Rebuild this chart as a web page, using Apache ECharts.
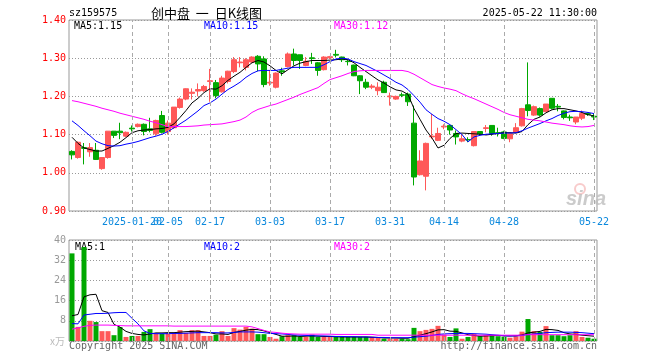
<!DOCTYPE html>
<html>
<head>
<meta charset="utf-8">
<script src="https://cdn.jsdelivr.net/npm/echarts@6/dist/echarts.min.js"></script>
<style>html,body{margin:0;padding:0;background:#fff;}#c{width:660px;height:360px;}</style>
</head>
<body>
<div id="c"></div>
<script>
const dates = ['01-07','01-08','01-09','01-10','01-13','01-14','01-15','01-16','01-17','01-20','01-21','01-22','01-23','01-24','01-27',
 '02-05','02-06','02-07','02-10','02-11','02-12','02-13','02-14','02-17','02-18','02-19','02-20','02-21','02-24','02-25','02-26','02-27','02-28',
 '03-03','03-04','03-05','03-06','03-07','03-10','03-11','03-12','03-13','03-14','03-17','03-18','03-19','03-20','03-21','03-24','03-25','03-26','03-27','03-28','03-31',
 '04-01','04-02','04-03','04-07','04-08','04-09','04-10','04-11','04-14','04-15','04-16','04-17','04-18','04-21','04-22','04-23','04-24','04-25','04-28','04-29','04-30',
 '05-06','05-07','05-08','05-09','05-12','05-13','05-14','05-15','05-16','05-19','05-20','05-21','05-22'];

const openP = [1.056,1.040,1.066,1.055,1.059,1.011,1.040,1.109,1.109,1.096,1.117,1.121,1.127,1.115,1.102,1.150,1.108,1.118,1.171,1.193,1.208,1.214,1.215,1.239,1.236,1.212,1.239,1.265,1.288,1.276,1.290,1.305,1.298,1.235,1.224,1.267,1.278,1.311,1.309,1.281,1.301,1.288,1.270,1.301,1.310,1.303,1.292,1.282,1.254,1.237,1.224,1.215,1.237,1.199,1.193,1.204,1.206,1.130,0.995,0.991,1.094,1.085,1.120,1.124,1.103,1.083,1.087,1.071,1.108,1.116,1.124,1.105,1.107,1.089,1.106,1.123,1.178,1.151,1.168,1.160,1.195,1.174,1.162,1.146,1.133,1.143,1.155,1.148];
const closeP = [1.047,1.080,1.064,1.066,1.035,1.040,1.109,1.098,1.105,1.106,1.115,1.127,1.108,1.111,1.137,1.106,1.130,1.172,1.193,1.220,1.211,1.218,1.226,1.241,1.202,1.248,1.266,1.296,1.290,1.296,1.303,1.285,1.231,1.237,1.261,1.264,1.311,1.294,1.294,1.292,1.299,1.268,1.303,1.304,1.308,1.296,1.291,1.254,1.241,1.224,1.227,1.224,1.210,1.201,1.200,1.203,1.186,0.989,1.031,1.077,1.096,1.103,1.122,1.112,1.094,1.089,1.086,1.108,1.102,1.118,1.103,1.103,1.090,1.102,1.118,1.168,1.163,1.173,1.151,1.180,1.169,1.172,1.145,1.144,1.146,1.155,1.153,1.146];
const lowP = [1.035,1.037,1.022,1.042,1.034,1.008,1.037,1.091,1.088,1.094,1.108,1.119,1.098,1.106,1.097,1.103,1.100,1.115,1.168,1.190,1.192,1.200,1.212,1.186,1.195,1.210,1.234,1.261,1.276,1.268,1.288,1.266,1.224,1.228,1.221,1.254,1.276,1.281,1.272,1.279,1.285,1.254,1.268,1.298,1.302,1.290,1.281,1.253,1.206,1.219,1.219,1.203,1.209,1.176,1.191,1.198,1.175,0.967,0.993,0.954,1.089,1.083,1.114,1.100,1.074,1.080,1.080,1.069,1.097,1.106,1.097,1.095,1.088,1.080,1.104,1.121,1.148,1.149,1.147,1.159,1.166,1.161,1.140,1.136,1.127,1.138,1.149,1.138];
const highP = [1.059,1.082,1.078,1.078,1.078,1.041,1.109,1.109,1.131,1.108,1.124,1.129,1.129,1.144,1.139,1.162,1.137,1.172,1.197,1.221,1.221,1.234,1.230,1.272,1.243,1.254,1.267,1.303,1.303,1.300,1.305,1.308,1.305,1.268,1.263,1.275,1.315,1.325,1.309,1.303,1.314,1.290,1.305,1.306,1.322,1.304,1.296,1.283,1.255,1.246,1.232,1.237,1.241,1.210,1.202,1.210,1.210,1.176,1.059,1.079,1.154,1.118,1.127,1.124,1.111,1.100,1.093,1.108,1.108,1.125,1.124,1.118,1.110,1.102,1.130,1.170,1.289,1.176,1.171,1.180,1.195,1.180,1.163,1.152,1.146,1.163,1.158,1.154];

const ma5 = [1.093,1.077,1.065,1.061,1.057,1.057,1.064,1.071,1.080,1.092,1.105,1.110,1.112,1.113,1.115,1.116,1.119,1.128,1.145,1.163,1.183,1.195,1.210,1.220,1.219,1.228,1.242,1.253,1.263,1.276,1.288,1.294,1.290,1.280,1.268,1.259,1.270,1.280,1.287,1.291,1.294,1.294,1.294,1.295,1.296,1.298,1.296,1.288,1.276,1.265,1.254,1.243,1.235,1.225,1.217,1.214,1.205,1.168,1.140,1.112,1.091,1.065,1.072,1.090,1.103,1.104,1.103,1.102,1.101,1.099,1.101,1.103,1.105,1.105,1.104,1.108,1.126,1.140,1.146,1.157,1.165,1.168,1.168,1.165,1.162,1.158,1.152,1.149];
const ma10 = [1.136,1.124,1.110,1.097,1.083,1.076,1.071,1.070,1.071,1.075,1.078,1.082,1.087,1.092,1.096,1.101,1.108,1.118,1.128,1.138,1.150,1.162,1.176,1.183,1.193,1.206,1.218,1.227,1.237,1.250,1.260,1.267,1.268,1.268,1.268,1.271,1.274,1.276,1.276,1.276,1.276,1.276,1.283,1.291,1.298,1.300,1.298,1.291,1.286,1.281,1.273,1.265,1.256,1.247,1.237,1.230,1.218,1.202,1.185,1.165,1.153,1.142,1.135,1.126,1.113,1.100,1.081,1.094,1.098,1.101,1.102,1.103,1.104,1.104,1.105,1.110,1.117,1.123,1.129,1.136,1.142,1.150,1.156,1.160,1.161,1.160,1.158,1.155];
const ma30 = [1.189,1.186,1.182,1.178,1.174,1.169,1.165,1.161,1.156,1.152,1.148,1.144,1.140,1.135,1.131,1.126,1.121,1.121,1.121,1.121,1.122,1.123,1.125,1.126,1.127,1.128,1.131,1.134,1.138,1.146,1.158,1.166,1.171,1.176,1.180,1.186,1.192,1.198,1.205,1.211,1.217,1.223,1.234,1.244,1.249,1.254,1.260,1.265,1.267,1.268,1.268,1.268,1.268,1.268,1.268,1.268,1.265,1.258,1.249,1.240,1.231,1.226,1.222,1.219,1.215,1.207,1.200,1.194,1.187,1.180,1.173,1.166,1.158,1.152,1.148,1.144,1.140,1.138,1.136,1.133,1.130,1.128,1.126,1.123,1.121,1.120,1.121,1.124];

const volume = [34.7,5.6,37.2,8.0,7.5,3.9,3.9,2.3,5.5,1.6,2.0,2.0,3.6,4.7,2.9,2.9,3.2,3.2,4.3,3.2,4.3,4.3,2.0,2.0,2.5,3.9,2.0,5.1,4.5,5.6,4.9,2.7,2.7,1.6,0.9,1.9,2.3,2.3,1.6,1.6,2.5,1.6,1.6,1.6,1.6,1.6,1.6,1.6,1.6,1.6,1.6,1.2,0.9,0.9,0.9,0.9,0.7,5.2,3.9,4.4,4.8,6.0,2.5,1.6,5.0,0.9,1.6,2.8,1.9,2.3,2.3,1.9,1.6,1.3,1.9,3.7,8.7,3.9,3.6,5.9,2.3,2.3,1.9,2.3,3.9,1.6,1.3,0.9];
const volMa5 = [10.0,10.5,17.5,18.3,18.5,12.0,11.3,6.6,5.5,3.8,3.0,2.6,2.4,2.8,3.2,3.2,3.3,3.3,3.5,3.7,3.8,3.9,3.6,3.3,2.8,2.8,2.6,3.4,3.8,4.3,4.6,4.5,4.0,3.3,2.6,1.9,1.9,2.0,1.8,1.9,2.0,1.9,1.8,1.8,1.7,1.6,1.6,1.6,1.6,1.6,1.5,1.4,1.2,1.2,1.2,1.1,1.1,1.7,2.3,2.9,3.6,4.4,4.5,3.9,3.8,3.2,2.5,2.2,1.9,2.0,2.1,2.2,2.0,2.0,2.1,2.4,3.2,3.5,3.8,4.6,4.5,4.2,3.3,2.8,2.6,2.3,2.1,1.9];
const volMa10 = [6.9,6.8,10.3,10.6,10.9,10.9,11.0,11.2,11.3,11.3,9.0,6.8,4.0,3.0,2.9,2.9,2.9,3.0,3.0,3.1,3.2,3.3,3.3,3.3,3.3,3.2,3.2,3.4,3.6,3.6,3.6,3.5,3.3,3.0,2.9,2.8,2.6,2.4,2.3,2.2,2.1,2.0,2.0,1.9,1.8,1.8,1.7,1.7,1.6,1.6,1.5,1.4,1.4,1.3,1.3,1.3,1.3,1.5,1.7,1.9,2.2,2.6,2.8,2.9,3.0,3.0,3.0,2.9,2.8,2.7,2.5,2.3,2.1,2.0,2.0,2.2,2.6,2.8,3.0,3.3,3.4,3.5,3.5,3.5,3.4,3.3,3.1,2.9];
const volMa30 = [4.7,5.2,5.8,6.2,6.3,6.3,6.3,6.2,6.1,6.0,6.0,6.0,6.0,6.0,6.0,6.0,6.0,5.9,5.9,5.9,5.9,5.9,5.9,5.9,5.9,5.9,5.9,5.9,5.9,5.9,5.6,4.9,4.2,3.6,3.4,3.1,2.9,2.8,2.7,2.7,2.7,2.7,2.7,2.7,2.6,2.6,2.6,2.6,2.6,2.6,2.6,2.3,2.3,2.3,2.3,2.3,2.3,2.3,2.3,2.3,2.3,2.3,2.3,2.3,2.3,2.3,2.3,2.3,2.3,2.3,2.3,2.3,2.3,2.3,2.3,2.3,2.5,2.5,2.5,2.5,2.5,2.5,2.5,2.5,2.5,2.5,2.5,2.5];

const tickIdx = [10,16,23,33,43,53,62,72,87];
const tickText = ['2025-01-20','02-05','02-17','03-03','03-17','03-31','04-14','04-28','05-22'];

const RED = '#ff5858', GREEN = '#00a800';
const MONO = '"DejaVu Sans Mono", monospace';
const candleData = openP.map((o, i) => [o, closeP[i], lowP[i], highP[i]]);
const volData = volume.map((v, i) => ({ value: v, itemStyle: { color: closeP[i] >= openP[i] ? RED : GREEN } }));
const vLines = {
  silent: true, symbol: ['none', 'none'], label: { show: false }, animation: false,
  lineStyle: { type: [4, 3], color: '#aaa', width: 1 },
  data: tickIdx.map(i => ({ xAxis: i }))
};

const chart = echarts.init(document.getElementById('c'), null, { renderer: 'canvas' });
const lineS = (name, data, color, xi, mark) => ({
  name, type: 'line', data, xAxisIndex: xi, yAxisIndex: xi, showSymbol: false, symbol: 'none',
  lineStyle: { color, width: 1 }, animation: false, silent: true, z: 3,
  markLine: mark ? vLines : undefined
});
const txt = (text, x, y, fill, align, font) => ({
  type: 'text', x, y, silent: true,
  style: { text, fill, font: font || ('10px ' + MONO), align: align || 'left', verticalAlign: 'middle' }
});
// label sets: the first label overlaps the second one, so it goes on its own axis layer
const labelSetA = tickIdx.slice(1);
const labelSetB = tickIdx.slice(0, 1);
const xLabelAxis = (set, show) => ({
  type: 'category', gridIndex: 0, data: dates, boundaryGap: true, position: 'bottom',
  axisLine: { show: false }, axisTick: { show: false }, splitLine: { show: false },
  axisLabel: { show, interval: (idx) => set.includes(idx), margin: 6, hideOverlap: false,
    formatter: (v, idx) => tickText[tickIdx.indexOf(idx)] || '',
    color: '#0a88dd', fontFamily: 'DejaVu Sans Mono', fontSize: 10 }
});

chart.setOption({
  animation: false,
  backgroundColor: '#fff',
  grid: [
    { left: 69, width: 528, top: 20, height: 191, show: true, borderColor: '#999', borderWidth: 1 },
    { left: 69, width: 528, top: 240, height: 101, show: true, borderColor: '#999', borderWidth: 1 }
  ],
  xAxis: [
    xLabelAxis(labelSetA, true),
    { type: 'category', gridIndex: 1, data: dates, boundaryGap: true,
      axisLine: { show: false }, axisTick: { show: false }, axisLabel: { show: false }, splitLine: { show: false } },
    xLabelAxis(labelSetB, true)
  ],
  yAxis: [
    { type: 'value', gridIndex: 0, min: 0.9, max: 1.4, interval: 0.1,
      axisLine: { show: false }, axisTick: { show: false },
      axisLabel: { color: '#ff0000', fontFamily: 'DejaVu Sans Mono', fontSize: 10, margin: 3,
        formatter: (v) => v.toFixed(2) },
      splitLine: { show: true, lineStyle: { type: [1, 2], color: '#999', width: 1 } } },
    { type: 'value', gridIndex: 1, min: 0, max: 40, interval: 8,
      axisLine: { show: false }, axisTick: { show: false },
      axisLabel: { color: '#999', fontFamily: 'DejaVu Sans Mono', fontSize: 10, margin: 3,
        formatter: (v) => v === 0 ? '' : String(v) },
      splitLine: { show: true, lineStyle: { type: [1, 2], color: '#999', width: 1 } } }
  ],
  series: [
    { type: 'candlestick', xAxisIndex: 0, yAxisIndex: 0, data: candleData, barWidth: 5, animation: false, silent: true,
      itemStyle: { color: RED, color0: GREEN, borderColor: RED, borderColor0: GREEN, borderWidth: 1 }, z: 2 },
    lineS('MA5', ma5, '#000000', 0, true),
    lineS('MA10', ma10, '#0000ff', 0, false),
    lineS('MA30', ma30, '#ff00ff', 0, false),
    { type: 'bar', xAxisIndex: 1, yAxisIndex: 1, data: volData, barWidth: 5, animation: false, silent: true, z: 2 },
    lineS('VMA5', volMa5, '#000000', 1, true),
    lineS('VMA10', volMa10, '#0000ff', 1, false),
    lineS('VMA30', volMa30, '#ff00ff', 1, false)
  ],
  graphic: [
    txt('sz159575', 69, 13, '#000'),
    txt('创中盘  一  日K线图', 151, 13, '#000', 'left', '13px "Noto Sans CJK SC"'),
    txt('2025-05-22 11:30:00', 597, 13, '#000', 'right'),
    txt('MA5:1.15', 74, 26, '#000'),
    txt('MA10:1.15', 204, 26, '#0000ff'),
    txt('MA30:1.12', 334, 26, '#ff00ff'),
    txt('MA5:1', 75, 247, '#000'),
    txt('MA10:2', 204, 247, '#0000ff'),
    txt('MA30:2', 334, 247, '#ff00ff'),
    txt('x万', 65, 341, '#bbb', 'right', '10px "Noto Sans CJK SC"'),
    txt('Copyright 2025 SINA.COM', 69, 346, '#666'),
    txt('http://finance.sina.com.cn', 597, 346, '#666', 'right'),
    { type: 'circle', shape: { cx: 580, cy: 189, r: 5 }, silent: true,
      style: { fill: 'none', stroke: 'rgba(240,140,140,0.45)', lineWidth: 2 } },
    txt('sina', 566, 199, 'rgba(190,190,190,0.8)', 'left', 'italic bold 20px "Liberation Sans"')
  ]
});
</script>
</body>
</html>
